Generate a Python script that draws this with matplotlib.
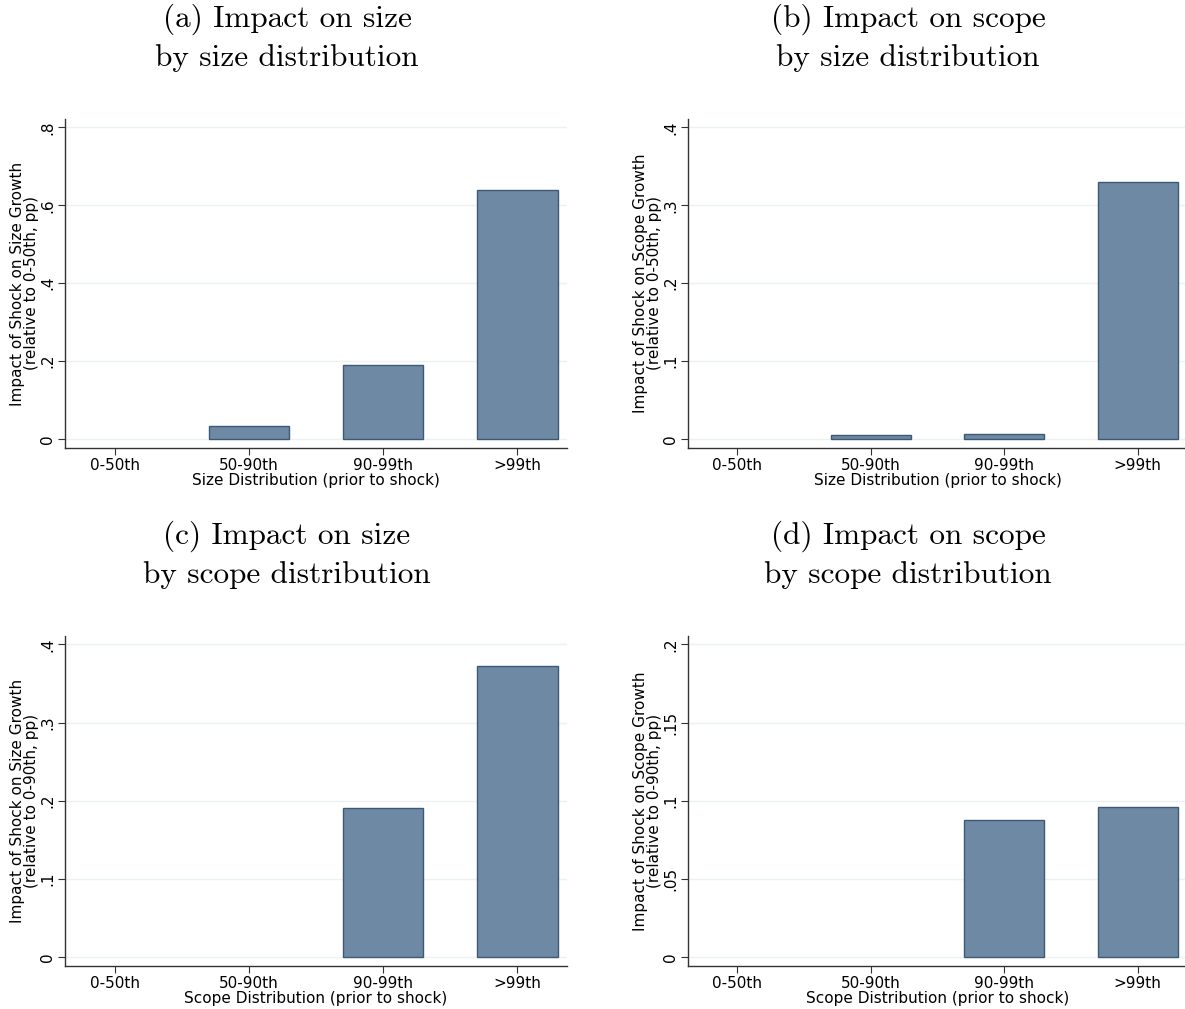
#!/usr/bin/env python
# -*- coding: utf-8 -*-

import matplotlib
matplotlib.use('Agg')
import matplotlib.pyplot as plt
import numpy as np

W, H = 1185, 1009

categories = ['0-50th', '50-90th', '90-99th', '>99th']

size_by_size = [0.0, 0.033, 0.19, 0.639]
scope_by_size = [0.0, 0.005, 0.007, 0.33]
size_by_scope = [0.0, 0.0, 0.191, 0.372]
scope_by_scope = [0.0, 0.0, 0.0875, 0.096]

titles = ['(a) Impact on size\nby size distribution',
          '(b) Impact on scope\nby size distribution',
          '(c) Impact on size\nby scope distribution',
          '(d) Impact on scope\nby scope distribution']
ylabels = ['Impact of Shock on Size Growth\n(relative to 0-50th, pp)',
           'Impact of Shock on Scope Growth\n(relative to 0-50th, pp)',
           'Impact of Shock on Size Growth\n(relative to 0-90th, pp)',
           'Impact of Shock on Scope Growth\n(relative to 0-90th, pp)']
xlabels = ['Size Distribution (prior to shock)',
           'Size Distribution (prior to shock)',
           'Scope Distribution (prior to shock)',
           'Scope Distribution (prior to shock)']
yticks = [[0, 0.2, 0.4, 0.6, 0.8],
          [0, 0.1, 0.2, 0.3, 0.4],
          [0, 0.1, 0.2, 0.3, 0.4],
          [0, 0.05, 0.1, 0.15, 0.2]]
ytick_labels = [['0', '.2', '.4', '.6', '.8'],
                ['0', '.1', '.2', '.3', '.4'],
                ['0', '.1', '.2', '.3', '.4'],
                ['0', '.05', '.1', '.15', '.2']]
values = [size_by_size, scope_by_size, size_by_scope, scope_by_scope]

# axes boxes in pixels: left, right, top, bottom
boxes = [(65, 567, 119, 448), (688, 1187, 119, 448),
         (65, 567, 636, 966), (688, 1187, 636, 966)]
# title block centres in pixels
title_pos = [(287, 38), (908, 38), (287, 555), (908, 555)]

BAR = '#6e89a3'
EDGE = '#3c5a78'
GRID = '#eaf2f3'
AXC = '#333333'

fig = plt.figure(figsize=(W / 100., H / 100.), dpi=100)
fig.patch.set_facecolor('white')

for i in range(4):
    l, r, t, b = boxes[i]
    ax = fig.add_axes([l / W, 1 - b / H, (r - l) / W, (b - t) / H])
    x = np.arange(len(categories))
    lws = [1.0 if v != 0 else 0.0 for v in values[i]]
    ax.bar(x, values[i], width=0.6, color=BAR, edgecolor=EDGE,
           linewidth=lws, zorder=3)
    top = yticks[i][-1]
    ax.set_ylim(-0.029 * top, 1.027 * top)
    ax.set_xlim(-0.37, 3.37)
    ax.set_yticks(yticks[i])
    ax.set_yticklabels(ytick_labels[i], rotation=90, va='center',
                       fontsize=11)
    ax.set_xticks(x)
    ax.set_xticklabels(categories, fontsize=11)
    for yv in yticks[i]:
        ax.axhline(yv, color=GRID, lw=1.0, zorder=1)
    ax.tick_params(axis='both', length=5, width=0.8, color=AXC, pad=2)
    ax.spines['top'].set_visible(False)
    ax.spines['right'].set_visible(False)
    for s in ['left', 'bottom']:
        ax.spines[s].set_color(AXC)
        ax.spines[s].set_linewidth(1.0)
    ax.set_ylabel(ylabels[i], fontsize=11, labelpad=1, linespacing=0.92)
    ax.set_xlabel(xlabels[i], fontsize=11, labelpad=0)
    tx, ty = title_pos[i]
    fig.text(tx / W, 1 - ty / H, titles[i], ha='center', va='center',
             fontsize=22.5, family='cmr10', linespacing=1.4)

fig.savefig('out.png', dpi=100)
